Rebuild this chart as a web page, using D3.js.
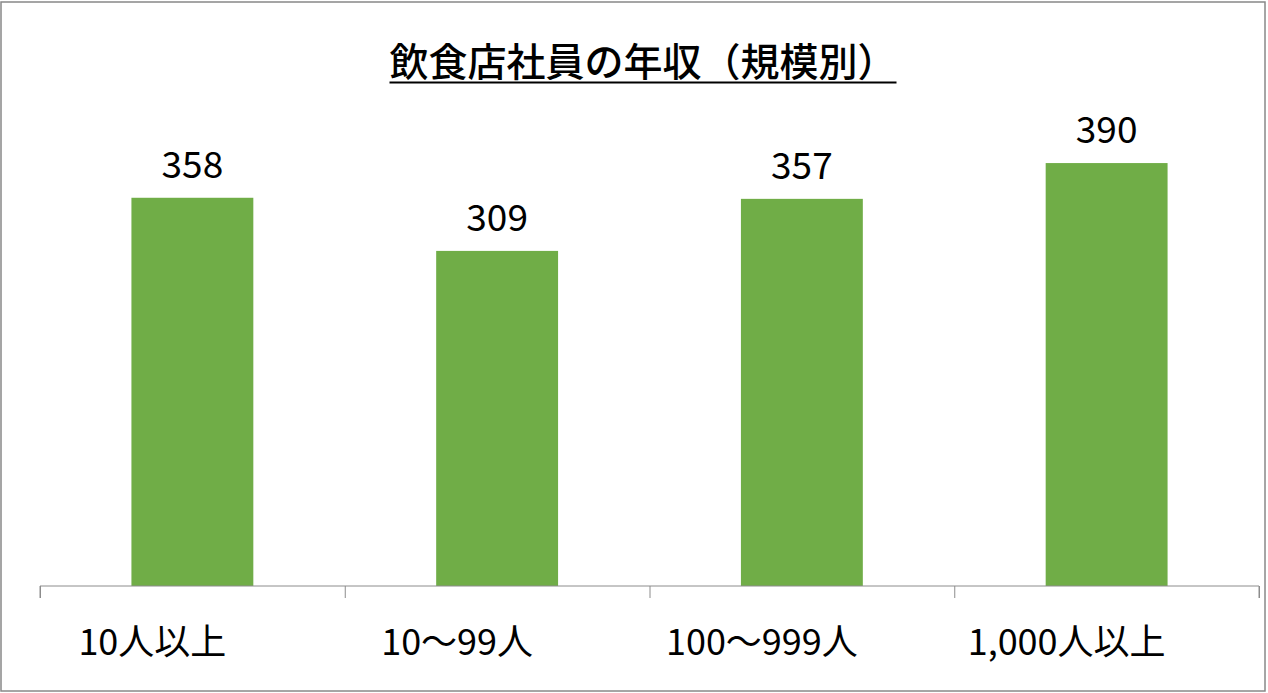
<!DOCTYPE html>
<html>
<head>
<meta charset="utf-8">
<script src="https://cdn.jsdelivr.net/npm/d3@7"></script>
<style>
  html, body { margin: 0; padding: 0; background: #fff; }
  svg { display: block; }
</style>
</head>
<body>
<script>
// chart data
const categories = ["10人以上", "10〜99人", "100〜999人", "1,000人以上"];
const salaries = [358, 309, 357, 390];
const chartTitle = "飲食店社員の年収（規模別）";

const width = 1268, height = 693;
const plot = { left: 40, right: 1259, top: 98, bottom: 586 };
const barColor = "#70ad47";
const font = "'Noto Sans CJK JP', 'Noto Sans', sans-serif";

const svg = d3.select("body").append("svg")
  .attr("width", width)
  .attr("height", height)
  .style("font-family", font);

// outer frame
svg.append("rect")
  .attr("x", 1).attr("y", 2)
  .attr("width", 1264).attr("height", 689)
  .attr("fill", "#fff")
  .attr("stroke", "#888")
  .attr("stroke-width", 1.5);

const x = d3.scaleBand()
  .domain(categories)
  .range([plot.left, plot.right])
  .paddingInner(0.6)
  .paddingOuter(0.3);

const y = d3.scaleLinear()
  .domain([0, 450])
  .range([plot.bottom, plot.top]);

// title
const title = svg.append("text")
  .attr("x", 643)
  .attr("y", 76)
  .attr("text-anchor", "middle")
  .style("font-size", "39px")
  .style("font-weight", 500)
  .style("fill", "#000")
  .text(chartTitle);
const tb = title.node().getBBox();
svg.append("line")
  .attr("x1", tb.x).attr("x2", tb.x + tb.width)
  .attr("y1", 82.5).attr("y2", 82.5)
  .attr("stroke", "#000")
  .attr("stroke-width", 2);

// bars
svg.selectAll("rect.bar")
  .data(salaries)
  .enter().append("rect")
  .attr("class", "bar")
  .attr("x", (d, i) => x(categories[i]))
  .attr("y", d => y(d))
  .attr("width", x.bandwidth())
  .attr("height", d => y(0) - y(d))
  .attr("fill", barColor);

// value labels
svg.selectAll("text.val")
  .data(salaries)
  .enter().append("text")
  .attr("class", "val")
  .attr("x", (d, i) => x(categories[i]) + x.bandwidth() / 2)
  .attr("y", d => y(d) - 20)
  .attr("text-anchor", "middle")
  .style("font-size", "37px")
  .style("fill", "#000")
  .text(d => d);

// category axis: band edges as ticks
const edge = d3.scalePoint()
  .domain(d3.range(categories.length + 1))
  .range([plot.left, plot.right]);

const axis = svg.append("g")
  .attr("transform", `translate(0,${plot.bottom})`)
  .call(d3.axisBottom(edge).tickSize(12).tickFormat(""));
axis.select(".domain").attr("stroke", "#8c8c8c").attr("d", `M${plot.left},12V0H${plot.right}V12`);
axis.selectAll(".tick line").attr("stroke", "#8c8c8c");

// category labels (sit a bit left of band centre in the original)
svg.selectAll("text.cat")
  .data(categories)
  .enter().append("text")
  .attr("class", "cat")
  .attr("x", d => x(d) + x.bandwidth() / 2 - 40)
  .attr("y", 655)
  .attr("text-anchor", "middle")
  .style("font-size", "36px")
  .style("fill", "#000")
  .text(d => d);
</script>
</body>
</html>
